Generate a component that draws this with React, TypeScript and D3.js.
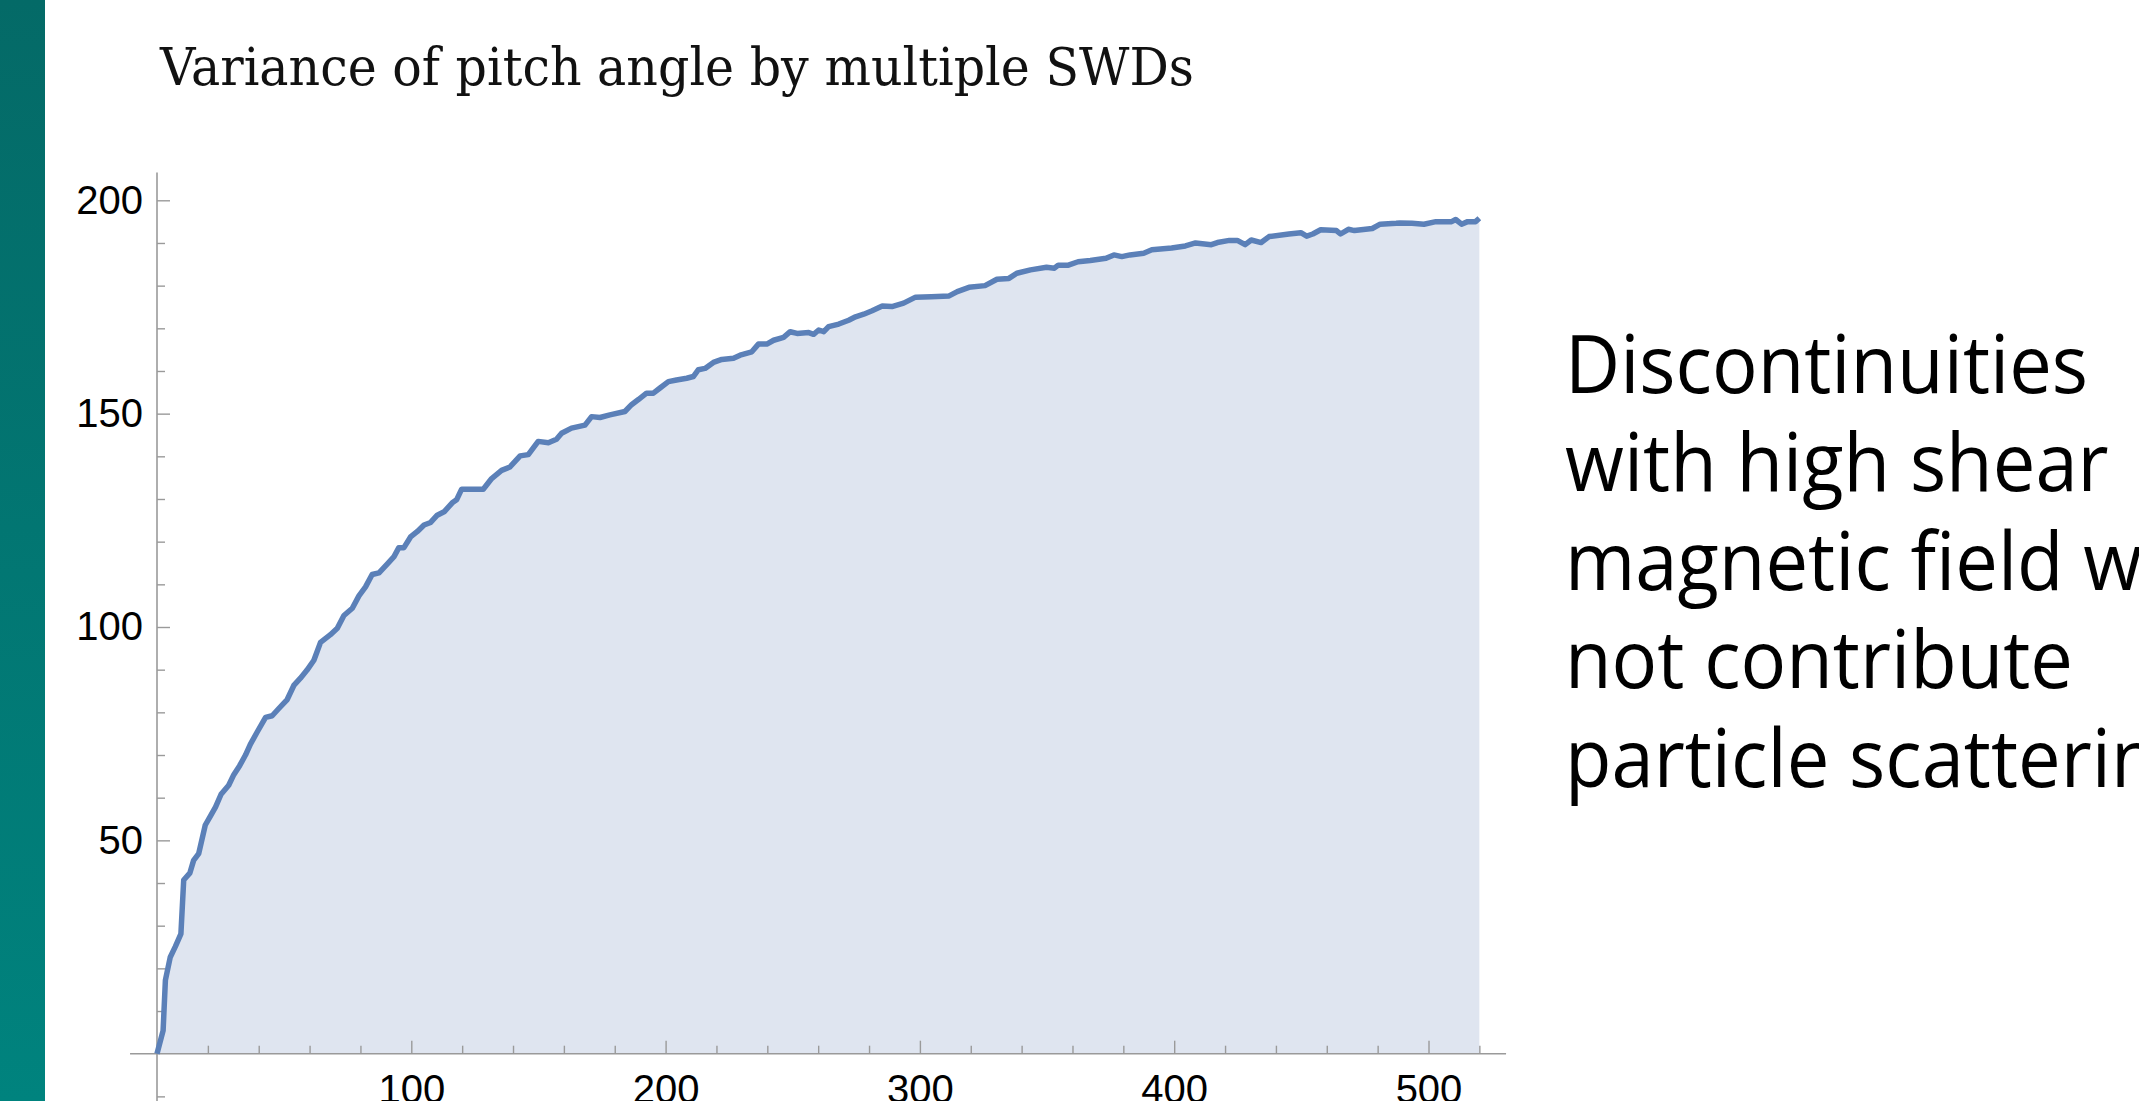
import * as d3 from "d3";
import { useRef, useEffect } from "react";

// [number of SWDs, variance of pitch angle]
const variance: [number, number][] = [
  [0, 0], [2.4, 5.4], [3.3, 17.2], [5.2, 22.6], [7.2, 25.1], [9.4, 28.1], [10.5, 40.7],
  [12.9, 42.3], [14.4, 45.3], [16.4, 46.9], [19, 53.6], [21, 55.7], [23, 57.8], [25.2, 60.8],
  [28.2, 62.9], [30.2, 65.4], [32.5, 67.5], [34.8, 70], [36.7, 72.5], [39.4, 75.4], [42.7, 78.8],
  [45.3, 79.2], [47.9, 80.9], [51.2, 83], [53.8, 86.3], [56.4, 88], [59, 89.9], [61.7, 92.2],
  [64.3, 96.4], [68.2, 98.2], [70.9, 99.7], [73.5, 102.7], [76.8, 104.4], [79.4, 107.3],
  [82, 109.4], [84.6, 112.3], [87.3, 112.7], [90.6, 114.8], [93.2, 116.5], [95.1, 118.6],
  [97.1, 118.6], [99.7, 121.1], [102.4, 122.4], [105, 123.9], [107.6, 124.5], [110.2, 126.2],
  [112.9, 127], [116.1, 129.1], [117.8, 129.8], [119.8, 132.3], [128.3, 132.3], [131.6, 134.8],
  [135.5, 136.7], [138.8, 137.5], [142.8, 140.1], [146, 140.4], [149.9, 143.5], [153.9, 143.2],
  [157.1, 144], [159.1, 145.4], [163, 146.6], [168.3, 147.3], [170.9, 149.3], [174.2, 149.1],
  [178.1, 149.7], [184, 150.5], [186.6, 152.1], [189.3, 153.3], [192.5, 154.8], [195.2, 154.8],
  [197.8, 156], [201.1, 157.5], [204.3, 157.9], [208.3, 158.3], [210.9, 158.7], [212.9, 160.3],
  [215.5, 160.6], [218.8, 162], [222.1, 162.7], [226.7, 163], [229.3, 163.7], [233.9, 164.5],
  [236.5, 166.3], [239.8, 166.3], [242.5, 167.2], [246.4, 167.9], [249, 169.2], [251.7, 168.8],
  [256.3, 169], [258.2, 168.6], [260.2, 169.6], [262.2, 169.2], [264.1, 170.4], [268.1, 171],
  [272, 171.9], [274.7, 172.7], [277.9, 173.3], [281.2, 174.1], [285.2, 175.2], [289, 175.1],
  [293.6, 175.9], [298.3, 177.3], [304.5, 177.4], [311.5, 177.6], [314.7, 178.6], [319.3, 179.6],
  [325.6, 180], [330.3, 181.5], [335, 181.7], [338.1, 182.9], [343.5, 183.7], [349.8, 184.3],
  [352.9, 184.1], [354.4, 184.8], [358.4, 184.8], [362.2, 185.6], [367, 185.9], [373.2, 186.4],
  [376.3, 187.2], [379.4, 186.8], [382.6, 187.2], [388, 187.6], [391.2, 188.4], [399, 188.8],
  [404.4, 189.3], [408.4, 190], [414.6, 189.6], [417, 190.1], [421.7, 190.6], [424.8, 190.6],
  [427.9, 189.6], [430.3, 190.7], [434.2, 190.1], [437.3, 191.5], [445.1, 192.1], [449.8, 192.4],
  [452.1, 191.6], [454.5, 192.1], [457.6, 193.1], [463.8, 192.9], [465.4, 192.1], [468.5, 193.2],
  [470.9, 192.9], [477.9, 193.4], [481, 194.4], [487.3, 194.6], [488.8, 194.7], [493.5, 194.6],
  [498.2, 194.4], [502.9, 195], [509.1, 195], [510.7, 195.5], [513, 194.4], [515.4, 195],
  [518.5, 195], [520, 195.8],
];

const xMajorTicks = [100, 200, 300, 400, 500];
const xMinorTicks = [20, 40, 60, 80, 120, 140, 160, 180, 220, 240, 260, 280, 320, 340, 360, 380, 420, 440, 460, 480, 520];
const yMajorTicks = [50, 100, 150, 200];
const yMinorTicks = [-10, 10, 20, 30, 40, 60, 70, 80, 90, 110, 120, 130, 140, 160, 170, 180, 190];

const titleText = "Variance of pitch angle by multiple SWDs";
const noteLines = ["Discontinuities", "with high shear", "magnetic field will", "not contribute", "particle scattering"];

const W = 2139;
const H = 1101;

const App = () => {
  const chartRef = useRef<SVGSVGElement | null>(null);

  useEffect(() => {
    document.body.style.margin = "0";
    document.body.style.overflow = "hidden";

    const svg = d3.select(chartRef.current);
    svg.selectAll("*").remove();

    // plot area: 0 -> 157px, 500 -> 1428.5px ; 0 -> 1053.7px, 200 -> 200.3px
    const x = d3.scaleLinear().domain([0, 500]).range([157, 1428.5]);
    const y = d3.scaleLinear().domain([0, 200]).range([1053.7, 200.3]);

    // teal side band
    const grad = svg.append("defs").append("linearGradient")
      .attr("id", "band").attr("x1", 0).attr("y1", 0).attr("x2", 0).attr("y2", 1);
    grad.append("stop").attr("offset", "0%").attr("stop-color", "#046a67");
    grad.append("stop").attr("offset", "100%").attr("stop-color", "#00837e");
    svg.append("rect").attr("x", 0).attr("y", 0).attr("width", 45).attr("height", H)
      .style("fill", "url(#band)");

    svg.append("text")
      .attr("x", 160).attr("y", 85)
      .attr("textLength", 1034).attr("lengthAdjust", "spacingAndGlyphs")
      .style("font-family", "'DejaVu Serif', 'Liberation Serif', serif")
      .style("font-size", "52px")
      .style("fill", "#111")
      .text(titleText);

    // filled area under curve
    const area = d3.area<[number, number]>()
      .x(d => x(d[0])).y0(y(0)).y1(d => y(d[1]));
    svg.append("path").datum(variance).attr("d", area).style("fill", "#dfe5f0");

    // axes lines
    const axisColor = "#9a9a9a";
    svg.append("line")
      .attr("x1", x(-10.6)).attr("x2", x(530.5)).attr("y1", y(0)).attr("y2", y(0))
      .style("stroke", axisColor).style("stroke-width", 1.6);
    svg.append("line")
      .attr("x1", x(0)).attr("x2", x(0)).attr("y1", y(206.5)).attr("y2", y(-12))
      .style("stroke", axisColor).style("stroke-width", 1.6);

    const tickFont = "'Liberation Sans', Arial, sans-serif";

    const xMajor = svg.append("g").attr("transform", `translate(0, ${y(0)})`)
      .call(d3.axisBottom(x).tickValues(xMajorTicks).tickSize(-13).tickPadding(21).tickFormat(d3.format("d")));
    const xMinor = svg.append("g").attr("transform", `translate(0, ${y(0)})`)
      .call(d3.axisBottom(x).tickValues(xMinorTicks).tickSize(-8).tickFormat(() => ""));
    const yMajor = svg.append("g").attr("transform", `translate(${x(0)}, 0)`)
      .call(d3.axisLeft(y).tickValues(yMajorTicks).tickSize(-13).tickPadding(14).tickFormat(d3.format("d")));
    const yMinor = svg.append("g").attr("transform", `translate(${x(0)}, 0)`)
      .call(d3.axisLeft(y).tickValues(yMinorTicks).tickSize(-8).tickFormat(() => ""));

    [xMajor, xMinor, yMajor, yMinor].forEach(g => {
      g.select(".domain").remove();
      g.selectAll("line").style("stroke", axisColor).style("stroke-width", 1.4);
      g.selectAll("text")
        .style("font-family", tickFont)
        .style("font-size", "40px")
        .style("fill", "#000");
    });

    // the curve
    const line = d3.line<[number, number]>().x(d => x(d[0])).y(d => y(d[1]));
    svg.append("path").datum(variance).attr("d", line)
      .style("fill", "none").style("stroke", "#5b80b8").style("stroke-width", 5.5)
      .style("stroke-linejoin", "round");

    // side note
    const note = svg.append("g").attr("transform", "translate(1565, 0) scale(0.95, 1)");
    noteLines.forEach((t, i) => {
      note.append("text")
        .attr("x", 0).attr("y", 393 + i * 98.5)
        .style("font-family", "'Open Sans', 'Noto Sans', sans-serif")
        .style("font-size", "80px")
        .style("fill", "#000")
        .text(t);
    });
  }, []);

  return (
    <svg ref={chartRef} width={W} height={H} style={{ display: "block", background: "#fff" }}></svg>
  );
};

export default App;
